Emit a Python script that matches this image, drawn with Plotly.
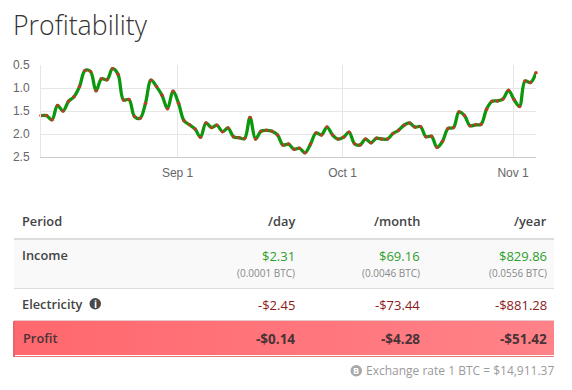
import pandas as pd
import plotly.graph_objects as go

profitability = [1.60,1.60,1.69,1.38,1.50,1.29,1.19,0.97,0.62,0.64,1.06,0.80,0.82,0.58,0.70,1.26,1.25,1.62,1.66,1.33,
0.83,0.97,1.16,1.45,1.07,1.33,1.71,1.80,1.89,2.07,1.76,1.86,1.81,1.95,1.87,2.06,2.08,2.10,1.64,2.11,
1.94,1.92,1.94,2.02,2.24,2.22,2.33,2.31,2.41,2.22,1.98,2.02,1.85,2.02,2.11,2.07,1.96,2.21,2.24,2.11,
2.19,2.09,2.11,2.11,1.99,1.92,1.81,1.76,1.85,1.84,2.06,2.05,2.29,2.16,1.88,1.86,1.52,1.60,1.82,1.80,
1.79,1.46,1.29,1.28,1.24,1.05,1.25,1.40,0.85,0.88,0.67]
dates = pd.date_range("2017-08-07 04:00", periods=len(profitability), freq="D")
date_ticks = ["2017-09-01", "2017-10-01", "2017-11-01"]
date_labels = ["Sep 1", "Oct 1", "Nov 1"]
y_ticks = [0.5, 1.0, 1.5, 2.0, 2.5]

headers = ["Period", "/day", "/month", "/year"]
income = ["$2.31", "$69.16", "$829.86"]
income_btc = ["(0.0001 BTC)", "(0.0046 BTC)", "(0.0556 BTC)"]
electricity = ["-$2.45", "-$73.44", "-$881.28"]
profit = ["-$0.14", "-$4.28", "-$51.42"]

W, H = 572, 390
COLS = [294.5, 419.5, 546.5]
FONT = "Open Sans"

def px(x): return x / W
def py(y): return 1 - y / H

fig = go.Figure(go.Scatter(
    x=dates, y=profitability, mode="lines+markers",
    line=dict(color="#0c980c", width=3.3, shape="spline", smoothing=1),
    marker=dict(color="#c0392b", size=3.5), cliponaxis=False, hoverinfo="skip"))

shapes = []
def rect(x0, y0, x1, y1, color):
    shapes.append(dict(type="rect", xref="paper", yref="paper", x0=px(x0), x1=px(x1),
                       y0=py(y0), y1=py(y1), fillcolor=color, line_width=0, layer="below"))

annotations = []
def text(x, y, s, size=13, color="#444", weight=400, anchor="left", family=FONT):
    annotations.append(dict(xref="paper", yref="paper", x=px(x), y=py(y), text=s,
                            showarrow=False, xanchor=anchor, yanchor="middle",
                            font=dict(size=size, color=color, family=family, weight=weight),
                            borderpad=0, borderwidth=0))

rect(14, 238, 554, 240, "#dddddd")
rect(14, 240, 554, 288, "#f9f9f9")
rect(14, 288, 554, 289, "#dddddd")
rect(14, 320, 554, 321, "#e8c8ca")
# profit row gradient
c0, c1 = (255, 104, 110), (255, 130, 136)
n = 54
for i in range(n):
    t = i / (n - 1)
    col = "rgb(%d,%d,%d)" % tuple(round(a + (b - a) * t) for a, b in zip(c0, c1))
    rect(14 + i * 10, 321, 554, 355, col)
rect(13, 321, 15, 357, "#e8666b")
rect(15, 355, 554, 356, "#ffffff")
rect(15, 356, 554, 357, "#e8787c")

text(22, 221, headers[0], size=12.8, weight=600)
for x, h in zip(COLS, headers[1:]):
    text(x, 221, h, size=12.8, weight=600, anchor="right")
text(22, 255, "Income", size=12.8, weight=600)
text(22, 304, "Electricity", size=12.8, weight=600)
text(23, 337.5, "Profit", size=12.8, weight=600, color="#4a3337")
for x, a, b, c, d in zip(COLS, income, income_btc, electricity, profit):
    text(x, 255.5, a, size=13, color="#2ca02c", anchor="right")
    text(x, 272.5, b, size=10, color="#888888", anchor="right")
    text(x, 304.5, c, size=13, color="#8b1a1a", anchor="right")
    text(x, 339, d, size=13.5, color="#4a3337", weight=700, anchor="right")

# icons
shapes.append(dict(type="circle", xref="paper", yref="paper", x0=px(89.5), x1=px(101), y0=py(298), y1=py(309.5),
                   fillcolor="#4a4a4a", line_width=0, layer="below"))
text(95.2, 303.8, "i", size=10, color="#ffffff", weight=700, anchor="center")
shapes.append(dict(type="circle", xref="paper", yref="paper", x0=px(350.5), x1=px(362), y0=py(365), y1=py(376.5),
                   fillcolor="#a8a8a8", line_width=0, layer="below"))
text(356.3, 370.7, "B", size=9, color="#ffffff", weight=700, anchor="center")
text(554, 370.5, "Exchange rate 1 BTC = $14,911.37", size=12, color="#9a9a9a", anchor="right")
text(13, 25, "Profitability", size=26.7, color="#333333", weight=300)

fig.update_layout(
    width=W, height=H, autosize=False, margin=dict(l=0, r=0, t=0, b=0, autoexpand=False),
    paper_bgcolor="#ffffff", plot_bgcolor="#ffffff", showlegend=False,
    shapes=shapes, annotations=annotations,
    xaxis=dict(domain=[px(41), px(536)], range=[dates[0], dates[-1]], type="date",
               tickvals=date_ticks, ticktext=date_labels, showgrid=True, gridcolor="#e6e6e6", gridwidth=1,
               showline=True, linecolor="#cccccc", linewidth=1, ticks="", zeroline=False,
               ticklabelstandoff=5, tickfont=dict(family="Liberation Sans", size=12, color="#666666")),
    yaxis=dict(domain=[py(157), py(65)], range=[2.5, 0.5], tickvals=y_ticks,
               ticktext=["0.5", "1.0", "1.5", "2.0", "2.5"], showgrid=True, gridcolor="#e6e6e6", gridwidth=1,
               showline=True, linecolor="#e6e6e6", linewidth=1, ticks="", zeroline=False,
               ticklabelstandoff=8, tickfont=dict(family="Liberation Sans", size=12, color="#666666")),
)
fig.write_html("out.html", config={"displayModeBar": False},
               post_script="document.body.style.margin='0';document.documentElement.style.overflow='hidden';")
